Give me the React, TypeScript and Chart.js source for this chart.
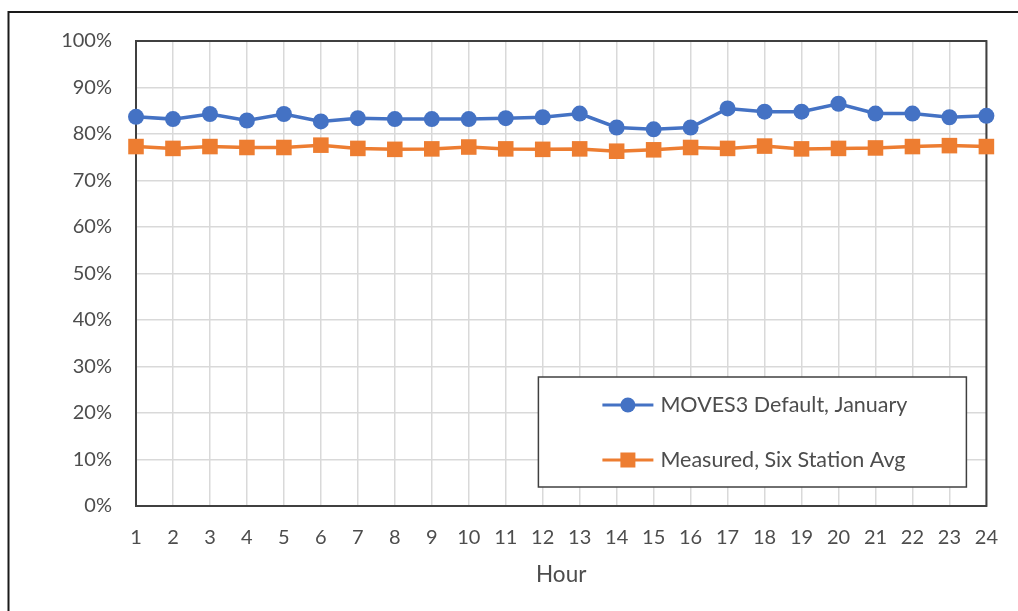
import React, { useEffect, useRef } from 'react';
import { Chart, registerables } from 'chart.js';

Chart.register(...registerables);

// ---- data ----
const hours = ['1', '2', '3', '4', '5', '6', '7', '8', '9', '10', '11', '12', '13', '14', '15', '16', '17', '18', '19', '20', '21', '22', '23', '24'];
const seriesNames = ['MOVES3 Default, January', 'Measured, Six Station Avg'];
const movesDefault = [83.7, 83.2, 84.3, 82.9, 84.3, 82.7, 83.4, 83.2, 83.2, 83.2, 83.4, 83.6, 84.4, 81.4, 81.0, 81.4, 85.5, 84.8, 84.8, 86.5, 84.4, 84.4, 83.6, 83.9];
const measuredAvg = [77.3, 76.9, 77.3, 77.1, 77.1, 77.6, 76.9, 76.7, 76.8, 77.2, 76.8, 76.7, 76.8, 76.3, 76.6, 77.1, 76.9, 77.4, 76.8, 76.9, 77.0, 77.3, 77.5, 77.3];
const yTickValues = [0, 10, 20, 30, 40, 50, 60, 70, 80, 90, 100];
const xTitle = 'Hour';

// ---- styles ----
const FONT = 'Lato';
const TEXT = '#4d4d4d';
const BLUE = '#4472C4';
const ORANGE = '#ED7D31';
const GRID = '#d9d9d9';
const FRAME = '#404040';

const framePlugin = {
  id: 'frames',
  beforeDraw(chart: any) {
    const { ctx } = chart;
    ctx.save();
    ctx.fillStyle = '#ffffff';
    ctx.fillRect(0, 0, chart.width, chart.height);
    ctx.strokeStyle = '#1a1a1a';
    ctx.lineWidth = 2;
    ctx.beginPath();
    ctx.moveTo(8.5, chart.height);
    ctx.lineTo(8.5, 12);
    ctx.lineTo(chart.width, 12);
    ctx.stroke();
    ctx.restore();
  },
  beforeDatasetsDraw(chart: any) {
    const { ctx, chartArea: a } = chart;
    ctx.save();
    ctx.strokeStyle = FRAME;
    ctx.lineWidth = 2;
    ctx.strokeRect(a.left, a.top, a.right - a.left, a.bottom - a.top);
    ctx.restore();
  },
};

const legendPlugin = {
  id: 'boxLegend',
  afterDatasetsDraw(chart: any) {
    const { ctx, chartArea: a } = chart;
    const w = 428;
    const h = 110;
    const x0 = a.right - 20 - w;
    const y0 = a.bottom - 19 - h;
    ctx.save();
    ctx.fillStyle = '#ffffff';
    ctx.fillRect(x0, y0, w, h);
    ctx.strokeStyle = FRAME;
    ctx.lineWidth = 1.5;
    ctx.strokeRect(x0, y0, w, h);
    chart.data.datasets.forEach((ds: any, i: number) => {
      const cy = y0 + 28 + i * 55;
      ctx.strokeStyle = ds.borderColor;
      ctx.lineWidth = 3;
      ctx.beginPath();
      ctx.moveTo(x0 + 64, cy);
      ctx.lineTo(x0 + 115, cy);
      ctx.stroke();
      ctx.fillStyle = ds.backgroundColor;
      const mx = x0 + 89.5;
      if (ds.pointStyle === 'rect') {
        ctx.fillRect(mx - 7.5, cy - 7.5, 15, 15);
      } else {
        ctx.beginPath();
        ctx.arc(mx, cy, 7.5, 0, Math.PI * 2);
        ctx.fill();
      }
      ctx.fillStyle = TEXT;
      ctx.font = `21.5px ${FONT}`;
      ctx.textBaseline = 'middle';
      ctx.textAlign = 'left';
      ctx.fillText(ds.label, x0 + 122, cy);
    });
    ctx.restore();
  },
};

export default function App() {
  const ref = useRef<HTMLCanvasElement>(null);
  useEffect(() => {
    const chart = new Chart(ref.current as HTMLCanvasElement, {
      type: 'line',
      data: {
        labels: hours,
        datasets: [
          {
            label: seriesNames[0],
            data: movesDefault,
            borderColor: BLUE,
            backgroundColor: BLUE,
            borderWidth: 3.5,
            pointStyle: 'circle',
            pointRadius: 8,
            pointBorderWidth: 0,
            tension: 0,
            clip: false as any,
          },
          {
            label: seriesNames[1],
            data: measuredAvg,
            borderColor: ORANGE,
            backgroundColor: ORANGE,
            borderWidth: 3.5,
            pointStyle: 'rect',
            pointRadius: 11,
            pointBorderWidth: 0,
            tension: 0,
            clip: false as any,
          },
        ],
      },
      options: {
        animation: false,
        responsive: false,
        devicePixelRatio: 1,
        layout: { padding: { top: 41, right: 31.5, bottom: 0, left: 0 } },
        plugins: { legend: { display: false }, tooltip: { enabled: false } },
        scales: {
          x: {
            type: 'category',
            offset: false,
            grid: { color: GRID, lineWidth: 1.5, drawTicks: false },
            border: { display: false },
            ticks: { color: TEXT, font: { family: FONT, size: 20 }, padding: 20, maxRotation: 0, autoSkip: false },
            title: { display: true, text: xTitle, color: TEXT, font: { family: FONT, size: 22.5 }, padding: { top: 0, bottom: 23 } },
            afterFit: (s: any) => { s.height = 105; },
          },
          y: {
            min: 0,
            max: 100,
            grid: { color: GRID, lineWidth: 1.5, drawTicks: false },
            border: { display: false },
            afterBuildTicks: (s: any) => { s.ticks = yTickValues.map((v) => ({ value: v })); },
            ticks: { color: TEXT, font: { family: FONT, size: 20 }, padding: 24, callback: (v: any) => `${v}%` },
            afterFit: (s: any) => { s.width = 136; },
          },
        },
      } as any,
      plugins: [framePlugin, legendPlugin],
    });
    return () => chart.destroy();
  }, []);
  return (
    <div style={{ position: 'absolute', left: 0, top: 0, width: 1018, height: 611 }}>
      <canvas ref={ref} width={1018} height={611} style={{ display: 'block' }} />
    </div>
  );
}
